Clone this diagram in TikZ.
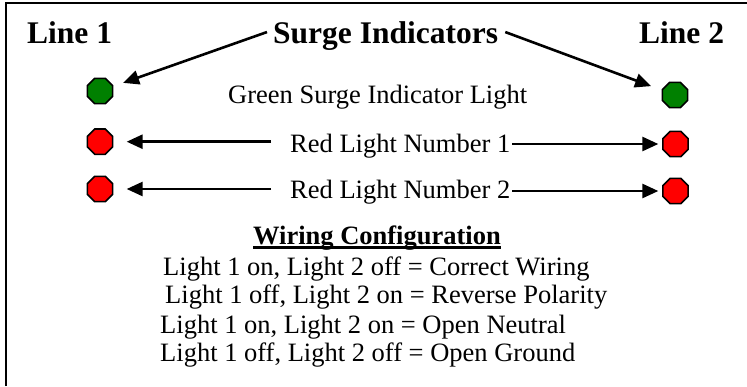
\documentclass[tikz,border=0pt]{standalone}
\usepackage{fontspec}
\setmainfont{Liberation Serif}
\usetikzlibrary{shapes.geometric,arrows.meta,calc}
\definecolor{lampgreen}{HTML}{008000}
\definecolor{lampred}{HTML}{FF0000}
\begin{document}
\begin{tikzpicture}[x=1pt,y=-1pt,
  head/.style={inner sep=0pt,anchor=base west,font=\fontsize{31.5}{34}\selectfont\bfseries},
  txt/.style={inner sep=0pt,anchor=base west,font=\fontsize{26.5}{30}\selectfont},
  lamp/.style={regular polygon,regular polygon sides=8,draw=black,line width=1.6pt,
    minimum size=27.4pt,inner sep=0pt,outer sep=0pt},
  greenlamp/.style={lamp,fill=lampgreen},
  redlamp/.style={lamp,fill=lampred},
  arr/.style={line width=2.6pt,-{Triangle[length=16pt,width=14pt]}}]
\useasboundingbox (0,0) rectangle (747,386);
\fill[white] (0,0) rectangle (747,386);
\draw[line width=2.5pt] (6,386) -- (6,2.8) -- (747,2.8);
% headers
\node[head] (l1) at (27,43) {Line 1};
\node[head] (si) at (273,43) {Surge Indicators};
\node[head] (l2) at (639,43) {Line 2};
% lamps
\node[greenlamp] (gl) at (100,91) {};
\node[greenlamp] (gr) at (675,95) {};
\node[redlamp] (rl1) at (100,141.7) {};
\node[redlamp] (rr1) at (675.5,144) {};
\node[redlamp] (rl2) at (100,189) {};
\node[redlamp] (rr2) at (675.5,191) {};
% labels
\node[txt] (gt) at (228,103.5) {Green Surge Indicator Light};
\node[txt] (t1) at (290,152) {Red Light Number 1};
\node[txt] (t2) at (290,198.5) {Red Light Number 2};
% wiring
\node[txt,font=\fontsize{26.5}{30}\selectfont\bfseries] (wc) at (253,244)
  {\setbox0\hbox{Wiring Configuration}\rlap{\rule[-4.8pt]{\wd0}{2.5pt}}\box0};
\node[txt] (w1) at (163,275) {Light 1 on, Light 2 off = Correct Wiring};
\node[txt] (w2) at (165,303.5) {Light 1 off, Light 2 on = Reverse Polarity};
\node[txt] (w3) at (160,333) {Light 1 on, Light 2 on = Open Neutral};
\node[txt] (w4) at (160,361.5) {Light 1 off, Light 2 off = Open Ground};
% arrows
\draw[arr,shorten >=11pt] ($(si.west)+(-6,-3.5)$) -- (gl);
\draw[arr,shorten >=12pt] ($(si.east)+(7,-3.5)$) -- (gr);
\draw[arr,shorten <=19pt,shorten >=14pt] (rl1.east -| t1.west) -- (rl1.east);
\draw[arr,shorten <=19pt,shorten >=14pt] (rl2.east -| t2.west) -- (rl2.east);
\draw[arr,shorten <=2pt,shorten >=4.5pt] (rr1.west -| t1.east) -- (rr1.west);
\draw[arr,shorten <=2pt,shorten >=4.5pt] (rr2.west -| t2.east) -- (rr2.west);
\end{tikzpicture}
\end{document}
